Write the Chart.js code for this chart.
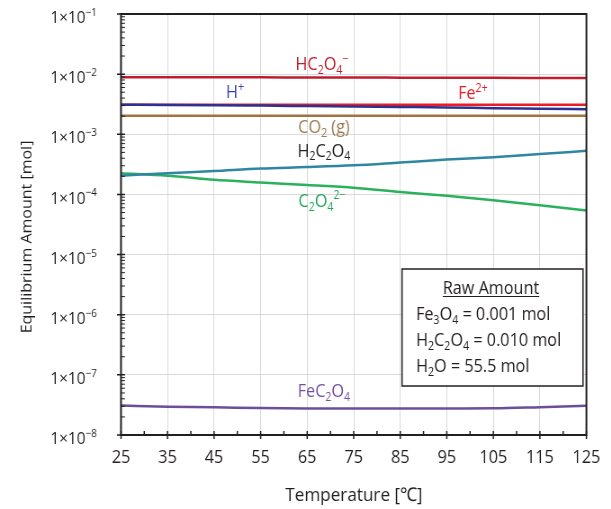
<!DOCTYPE html>
<html><head><meta charset="utf-8">
<script src="https://cdn.jsdelivr.net/npm/chart.js@4"></script>
<style>
html,body{margin:0;padding:0;background:#fff;overflow:hidden;width:611px;height:509px}
#wrap{height:509px;transform-origin:0 0}
canvas{display:block}
</style></head>
<body><div id="wrap"><canvas id="c"></canvas></div>
<script>
// ---------- data ----------
const temperatures = [25, 35, 45, 55, 65, 75, 85, 95, 105, 115, 125];
const xTickLabels = [25, 35, 45, 55, 65, 75, 85, 95, 105, 115, 125];
const xMinorTicks = [30, 40, 50, 60, 70, 80, 90, 100, 110, 120];
const yTickExponents = [-8, -7, -6, -5, -4, -3, -2, -1];

const hc2o4   = [8.9e-3, 8.9e-3, 8.85e-3, 8.85e-3, 8.8e-3, 8.8e-3, 8.75e-3, 8.7e-3, 8.7e-3, 8.65e-3, 8.6e-3];
const hPlus   = [3.1e-3, 3.08e-3, 3.05e-3, 3.0e-3, 2.95e-3, 2.9e-3, 2.85e-3, 2.8e-3, 2.72e-3, 2.66e-3, 2.6e-3];
const fe2     = [3.1e-3, 3.1e-3, 3.1e-3, 3.1e-3, 3.1e-3, 3.1e-3, 3.1e-3, 3.1e-3, 3.1e-3, 3.1e-3, 3.1e-3];
const co2     = [2.04e-3, 2.04e-3, 2.04e-3, 2.04e-3, 2.04e-3, 2.04e-3, 2.04e-3, 2.04e-3, 2.04e-3, 2.04e-3, 2.04e-3];
const h2c2o4  = [2.05e-4, 2.25e-4, 2.45e-4, 2.7e-4, 2.85e-4, 3.05e-4, 3.4e-4, 3.8e-4, 4.15e-4, 4.7e-4, 5.3e-4];
const c2o4    = [2.24e-4, 2.04e-4, 1.75e-4, 1.58e-4, 1.43e-4, 1.29e-4, 1.1e-4, 9.5e-5, 8.0e-5, 6.6e-5, 5.4e-5];
const fec2o4  = [3.08e-8, 2.95e-8, 2.9e-8, 2.8e-8, 2.77e-8, 2.77e-8, 2.77e-8, 2.77e-8, 2.78e-8, 2.9e-8, 3.05e-8];

const seriesNames = ['HC_{2}O_{4}^{−}', 'H^{+}', 'Fe^{2+}', 'CO_{2} (g)', 'H_{2}C_{2}O_{4}', 'C_{2}O_{4}^{2−}', 'FeC_{2}O_{4}'];
const seriesValues = [hc2o4, hPlus, fe2, co2, h2c2o4, c2o4, fec2o4];
const lineColors  = ['#be1e2d', '#2e3192', '#ed1c24', '#a0733f', '#2f86a3', '#2ab15c', '#6c4f9a'];
const labelColors = ['#be1e2d', '#3d43a6', '#ed1c24', '#9c7a4f', '#231f20', '#1fa855', '#7352a3'];
// label anchors in data coordinates (temperature, amount)
const labelAnchors = [[68.2, 1.49e-2], [49.5, 5.1e-3], [100.6, 4.93e-3], [68.6, 1.37e-3], [68.6, 5.47e-4], [68.2, 8.04e-5], [68.6, 5.47e-8]];

const legendTitle = 'Raw Amount';
const legendLines = ['Fe_{3}O_{4} = 0.001 mol', 'H_{2}C_{2}O_{4} = 0.010 mol', 'H_{2}O = 55.5 mol'];
const xTitle = 'Temperature [℃]';
const yTitle = 'Equilibrium Amount [mol]';

// ---------- layout ----------
const SX = 0.9;                        // horizontal condensing of the whole drawing
const CW = Math.round(611 / SX);
const R = v => v / SX;                 // page x -> canvas x
const FONT = "'Open Sans', 'Noto Sans', 'DejaVu Sans', sans-serif";
const INK = '#231f20';

const wrap = document.getElementById('wrap');
wrap.style.width = CW + 'px';
wrap.style.transform = 'scaleX(' + SX + ')';
const cv = document.getElementById('c');
cv.width = CW; cv.height = 509;

function fontOf(s){ return s + 'px ' + FONT; }
function parseRich(s){
  const out = []; const re = /([_^])\{([^}]*)\}|([^_^]+)/g; let m;
  while ((m = re.exec(s))) {
    if (m[3] !== undefined) out.push({t: m[3], k: 0});
    else out.push({t: m[2], k: m[1] === '_' ? 1 : 2});
  }
  return out;
}
function drawRich(ctx, s, x, base, size, color, align){
  const parts = parseRich(s);
  let w = 0;
  for (const p of parts){ ctx.font = fontOf(p.k ? size*0.66 : size); w += ctx.measureText(p.t).width; }
  let cx = align === 'center' ? x - w/2 : (align === 'right' ? x - w : x);
  const start = cx;
  ctx.fillStyle = color; ctx.textBaseline = 'alphabetic'; ctx.textAlign = 'left';
  for (const p of parts){
    const fs = p.k ? size*0.66 : size;
    ctx.font = fontOf(fs);
    const dy = p.k === 1 ? size*0.22 : (p.k === 2 ? -size*0.42 : 0);
    ctx.fillText(p.t, cx, base + dy);
    cx += ctx.measureText(p.t).width;
  }
  return {left: start, width: w};
}

const deco = {
  id: 'deco',
  afterDatasetsDraw(chart){
    const ctx = chart.ctx, a = chart.chartArea;
    const xs = chart.scales.x, ys = chart.scales.y;
    ctx.save();
    // frame
    ctx.strokeStyle = INK; ctx.lineWidth = 2;
    ctx.strokeRect(a.left, a.top, a.right - a.left, a.bottom - a.top);
    // major ticks
    ctx.lineWidth = 1.5;
    ctx.beginPath();
    for (const v of xTickLabels){ const px = xs.getPixelForValue(v); ctx.moveTo(px, a.bottom - 4); ctx.lineTo(px, a.bottom + 4); }
    for (const v of xMinorTicks){ const px = xs.getPixelForValue(v); ctx.moveTo(px, a.bottom - 4); ctx.lineTo(px, a.bottom); }
    for (const e of yTickExponents){
      const py = ys.getPixelForValue(Math.pow(10, e));
      ctx.moveTo(a.left - R(4), py); ctx.lineTo(a.left + R(4), py);
    }
    ctx.stroke();
    // minor y ticks
    ctx.lineWidth = 1;
    ctx.beginPath();
    for (const e of yTickExponents){ if (e < -1) for (let m = 2; m <= 9; m++){ const q = ys.getPixelForValue(m*Math.pow(10,e)); ctx.moveTo(a.left, q); ctx.lineTo(a.left + R(4), q);} }
    ctx.stroke();

    // y tick labels
    for (const e of yTickExponents){
      const py = ys.getPixelForValue(Math.pow(10, e));
      const lab = '1×10^{' + (e < 0 ? '−' : '') + Math.abs(e) + '}';
      drawRich(ctx, lab, R(97), py + 3 + 0.36*17, 17, INK, 'right');
    }

    // series labels
    seriesNames.forEach((n, i) => {
      const px = xs.getPixelForValue(labelAnchors[i][0]);
      const py = ys.getPixelForValue(labelAnchors[i][1]);
      drawRich(ctx, n, px, py + 0.36*18, 18, labelColors[i], 'center');
    });

    // legend box
    ctx.fillStyle = '#fff'; ctx.strokeStyle = INK; ctx.lineWidth = 1.5;
    ctx.fillRect(R(402), 269, R(583) - R(402), 117);
    ctx.strokeRect(R(402), 269, R(583) - R(402), 117);
    const t = drawRich(ctx, legendTitle, R(491), 294, 18, INK, 'center');
    ctx.beginPath(); ctx.lineWidth = 1.2; ctx.moveTo(t.left, 296.5); ctx.lineTo(t.left + t.width, 296.5); ctx.stroke();
    const bases = [320, 346.4, 371.6];
    legendLines.forEach((s, i) => drawRich(ctx, s, R(416), bases[i], 18, INK, 'left'));

    // axis titles
    ctx.fillStyle = INK; ctx.font = fontOf(19); ctx.textAlign = 'center'; ctx.textBaseline = 'alphabetic';
    ctx.fillText(xTitle, R(354), 501.3);
    ctx.save();
    ctx.translate(R(26) + 0.36*16, 237);
    ctx.rotate(-Math.PI/2);
    ctx.font = fontOf(16);
    ctx.fillText(yTitle, 0, 0);
    ctx.restore();
    ctx.restore();
  }
};

new Chart(cv, {
  type: 'line',
  data: {
    datasets: seriesValues.map((vals, i) => ({
      label: seriesNames[i],
      data: temperatures.map((t, j) => ({x: t, y: vals[j]})),
      borderColor: lineColors[i],
      backgroundColor: lineColors[i],
      borderWidth: 2.5,
      pointRadius: 0,
      cubicInterpolationMode: 'monotone',
      fill: false
    }))
  },
  options: {
    responsive: false,
    animation: false,
    devicePixelRatio: 1,
    layout: {padding: {top: 14, right: R(18), left: 0, bottom: 0}},
    plugins: {legend: {display: false}, tooltip: {enabled: false}},
    scales: {
      x: {
        type: 'linear', min: 25, max: 125,
        afterBuildTicks: s => { s.ticks = xTickLabels.map(v => ({value: v})); },
        afterFit: s => { s.height = 74; },
        grid: {color: '#d9d9d9', lineWidth: 1, drawTicks: false},
        border: {display: false},
        ticks: {font: {family: FONT, size: 18}, color: INK, padding: 12, maxRotation: 0, autoSkip: false}
      },
      y: {
        type: 'logarithmic', min: 1e-8, max: 1e-1,
        afterBuildTicks: s => { s.ticks = yTickExponents.map(e => ({value: Math.pow(10, e)})); },
        afterFit: s => { s.width = R(121); },
        grid: {color: '#d9d9d9', lineWidth: 1, drawTicks: false},
        border: {display: false},
        ticks: {display: false}
      }
    }
  },
  plugins: [deco]
});
</script>
</body></html>
